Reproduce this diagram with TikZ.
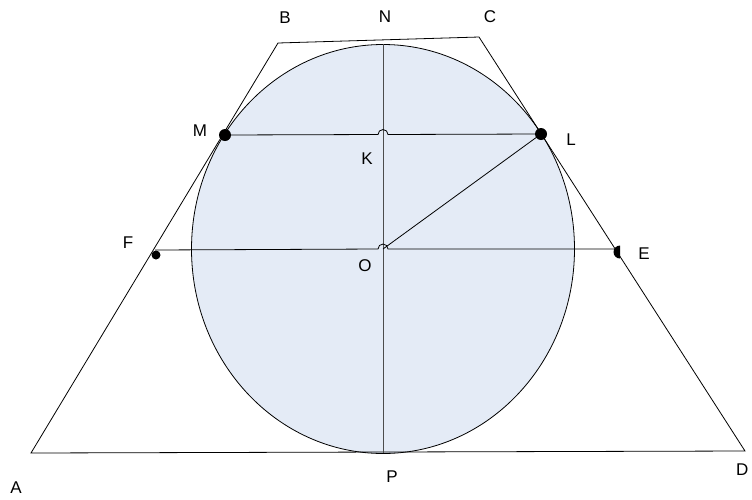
\documentclass[tikz,border=0pt]{standalone}
\usepackage{fontspec}
\setmainfont{Liberation Sans}
\usetikzlibrary{calc}
\definecolor{discfill}{RGB}{228,235,246}

\begin{document}
\begin{tikzpicture}[x=1pt,y=-1pt,line width=0.8pt,font=\fontsize{17}{19}\selectfont]
	\useasboundingbox (0,0) rectangle (752,499);
	% trapezoid corners
	\coordinate (A) at (31,453);
	\coordinate (B) at (278,43);
	\coordinate (C) at (479,37);
	\coordinate (D) at (745,451);
	% points on the figure
	\coordinate (O) at (383,249);
	\coordinate (N) at (383,44);
	\coordinate (P) at (383,453);
	\coordinate (M) at (225,135);
	\coordinate (L) at (541,134);
	\coordinate (K) at (383,134.5);
	\coordinate (F) at (155,250);
	\coordinate (E) at (618,249);
	
	\fill[discfill] (O) ellipse [x radius=191.5, y radius=204.5];
	\draw (O) ellipse [x radius=191.5, y radius=204.5];
	\draw (A)--(B)--(C)--(D)--cycle;
	\draw[black!70] (N)--(P);
	
	% chords with small hops
	\draw (M) -- ($(K)+(-5,0)$) arc[start angle=180,end angle=0,radius=5pt] -- (L);
	\draw (F) -- ($(O)+(-5,0)$) arc[start angle=180,end angle=0,radius=5pt] -- (E);
	\draw (O)--(L);
	
	% dots
	\fill (M) circle[radius=6pt];
	\fill (L) circle[radius=6pt];
	\fill (156,255) circle[radius=4.5pt];
	\fill ($(E)+(2,3)$) ++(0,-6.5) arc[start angle=90,end angle=270,radius=6.5pt] -- cycle;
	
	% labels
	\node (lA) at (16,488) {A};
	\node (lB) at (285,18) {B};
	\node (lC) at (490,17) {C};
	\node (lD) at (752,470) [anchor=east] {D};
	\node (lN) at (385,17) {N};
	\node (lM) at (200,131) {M};
	\node (lL) at (571,140) {L};
	\node (lK) at (367,159) {K};
	\node (lF) at (128,243) {F};
	\node (lO) at (365,266) {O};
	\node (lE) at (644,254) {E};
	\node (lP) at (392,477) {P};
\end{tikzpicture}
\end{document}
